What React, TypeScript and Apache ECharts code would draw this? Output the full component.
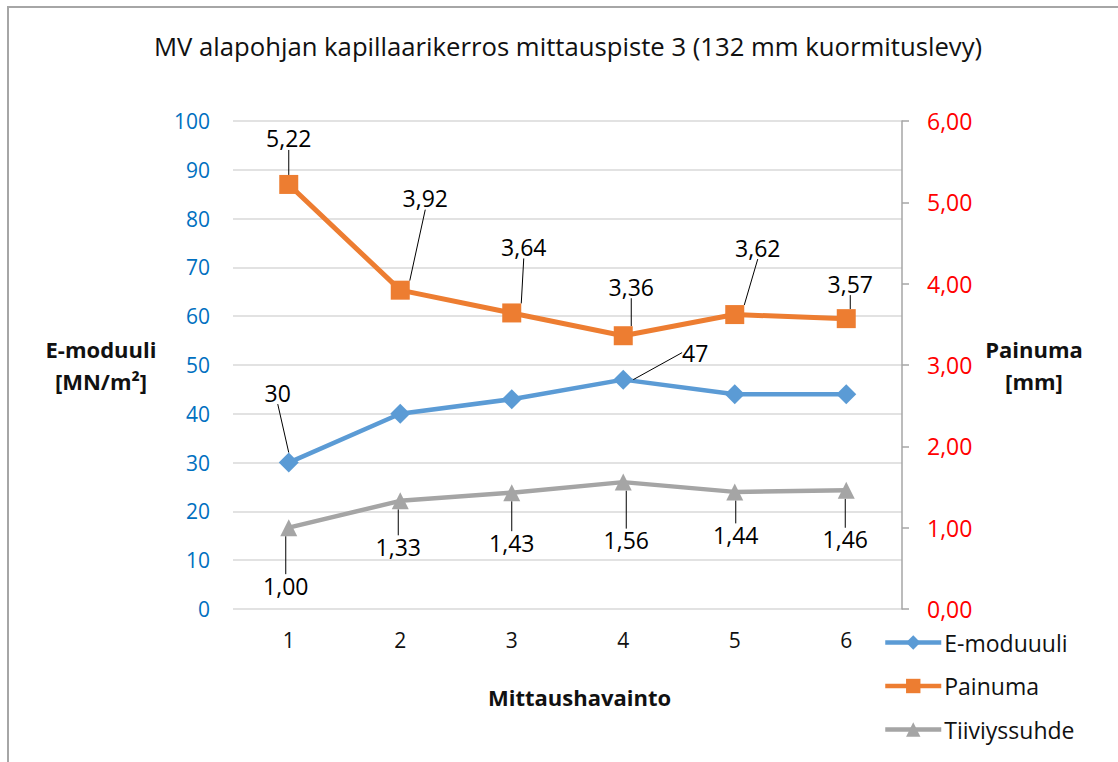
import React, { useEffect, useRef } from 'react';
import * as echarts from 'echarts';

// ---- data ----
const categories = ['1', '2', '3', '4', '5', '6'];
const eModuuli = [30, 40, 43, 47, 44, 44];
const painuma = [5.22, 3.92, 3.64, 3.36, 3.62, 3.57];
const tiiviyssuhde = [1.0, 1.33, 1.43, 1.56, 1.44, 1.46];
const eModuuliLabelShown = [true, false, false, true, false, false];

const leftMin = 0;
const leftMax = 100;
const leftInterval = 10;
const rightMin = 0;
const rightMax = 6;
const rightInterval = 1;

const titleText = 'MV alapohjan kapillaarikerros mittauspiste 3 (132 mm kuormituslevy)';
const seriesNames = ['E-moduuuli', 'Painuma', 'Tiiviyssuhde'];
const leftAxisName = 'E-moduuli\n[MN/m²]';
const rightAxisName = 'Painuma\n[mm]';
const xAxisName = 'Mittaushavainto';

// ---- label placement (pixel offsets of label centre from point centre) ----
const eLabelOffset: (number[] | null)[] = [[-11, -70], null, null, [72, -27], null, null];
const painumaLabelOffset = [[0, -46], [25, -92], [12, -66], [8, -49], [23, -67], [4, -35]];
const tiiviysLabelOffset = [[-3, 58], [-2, 46], [0, 50], [3, 58], [1, 43], [-1, 49]];

const FONT = '"Open Sans", sans-serif';

export default function App() {
  const ref = useRef<HTMLDivElement>(null);
  useEffect(() => {
    const chart = echarts.init(ref.current!, null, { renderer: 'svg' });
    const fmt2 = (v: number) => v.toFixed(2).replace('.', ',');
    const makeLayout = (offsets: (number[] | null)[]) => (params: any) => {
      const o = offsets[params.dataIndex];
      if (!o) return {};
      const r = params.rect;
      return {
        x: r.x + r.width / 2 + o[0],
        y: r.y + r.height / 2 + o[1],
        align: 'center',
        verticalAlign: 'middle',
      };
    };
    const labelBase = {
      show: true,
      position: 'inside',
      color: '#000',
      fontSize: 23,
      fontFamily: FONT,
      padding: [4, 4, 4, 4],
    };
    const labelLine = { show: true, lineStyle: { color: '#000', width: 1 } };
    const boldName = {
      fontFamily: FONT,
      fontSize: 22,
      fontWeight: 'bold',
      color: '#111',
    };

    chart.setOption({
      animation: false,
      backgroundColor: '#fff',
      textStyle: { fontFamily: FONT },
      title: {
        text: titleText,
        left: 563,
        top: 28,
        textAlign: 'center',
        textStyle: { fontFamily: FONT, fontSize: 25.7, fontWeight: 'normal', color: '#111' },
      },
      graphic: [
        {
          type: 'rect',
          z: -10,
          silent: true,
          shape: { x: 8, y: 7, width: 1300, height: 900 },
          style: { fill: 'none', stroke: '#a6a6a6', lineWidth: 2 },
        },
      ],
      legend: {
        orient: 'vertical',
        left: 883,
        top: 631,
        padding: 0,
        itemWidth: 56,
        itemHeight: 18,
        itemGap: 20.5,
        lineStyle: { width: 4.5 },
        textStyle: { fontFamily: FONT, fontSize: 23, color: '#111', padding: [0, 0, 0, -2] },
        data: seriesNames,
      },
      grid: { left: 233, right: 216, top: 121, bottom: 153, containLabel: false },
      xAxis: {
        type: 'category',
        data: categories,
        boundaryGap: true,
        axisLine: { show: false },
        axisTick: { show: false },
        axisLabel: { color: '#111', fontSize: 21, fontFamily: FONT, margin: 20 },
        name: xAxisName,
        nameLocation: 'middle',
        nameGap: 77,
        nameTextStyle: { ...boldName, padding: [0, 0, 0, 24] },
      },
      yAxis: [
        {
          type: 'value',
          min: leftMin,
          max: leftMax,
          interval: leftInterval,
          position: 'left',
          axisLine: { show: false },
          axisTick: { show: false },
          axisLabel: { color: '#0070c0', fontSize: 21, fontFamily: FONT, margin: 23 },
          splitLine: { show: true, lineStyle: { color: '#d9d9d9', width: 1.5 } },
          name: leftAxisName,
          nameLocation: 'middle',
          nameRotate: 0,
          nameGap: 132,
          nameTextStyle: { ...boldName, align: 'center', verticalAlign: 'middle', lineHeight: 32 },
        },
        {
          type: 'value',
          min: rightMin,
          max: rightMax,
          interval: rightInterval,
          position: 'right',
          axisLine: { show: true, lineStyle: { color: '#a6a6a6', width: 1.5 } },
          axisTick: { show: true, inside: false, length: 7, lineStyle: { color: '#a6a6a6', width: 1.5 } },
          axisLabel: {
            color: '#ff0000',
            fontSize: 23,
            fontFamily: FONT,
            margin: 25,
            formatter: (v: number) => fmt2(v),
          },
          splitLine: { show: false },
          name: rightAxisName,
          nameLocation: 'middle',
          nameRotate: 0,
          nameGap: 132,
          nameTextStyle: { ...boldName, align: 'center', verticalAlign: 'middle', lineHeight: 32 },
        },
      ],
      series: [
        {
          name: seriesNames[0],
          type: 'line',
          yAxisIndex: 0,
          data: eModuuli.map((v, i) => ({ value: v, label: { show: eModuuliLabelShown[i] } })),
          symbol: 'diamond',
          symbolSize: 20,
          lineStyle: { color: '#5b9bd5', width: 4.5 },
          itemStyle: { color: '#5b9bd5' },
          label: { ...labelBase, formatter: (p: any) => String(p.value) },
          labelLine,
          labelLayout: makeLayout(eLabelOffset),
          z: 3,
        },
        {
          name: seriesNames[1],
          type: 'line',
          yAxisIndex: 1,
          data: painuma,
          symbol: 'rect',
          symbolSize: 19,
          lineStyle: { color: '#ed7d31', width: 5 },
          itemStyle: { color: '#ed7d31' },
          label: { ...labelBase, formatter: (p: any) => fmt2(p.value) },
          labelLine,
          labelLayout: makeLayout(painumaLabelOffset),
          z: 4,
        },
        {
          name: seriesNames[2],
          type: 'line',
          yAxisIndex: 1,
          data: tiiviyssuhde,
          symbol: 'triangle',
          symbolSize: 17,
          lineStyle: { color: '#a5a5a5', width: 4.5 },
          itemStyle: { color: '#a5a5a5' },
          label: { ...labelBase, formatter: (p: any) => fmt2(p.value) },
          labelLine,
          labelLayout: makeLayout(tiiviysLabelOffset),
          z: 2,
        },
      ],
    });
    return () => chart.dispose();
  }, []);
  return (
    <div
      ref={ref}
      style={{ position: 'fixed', left: 0, top: 0, width: 1118, height: 762, background: '#fff' }}
    />
  );
}
